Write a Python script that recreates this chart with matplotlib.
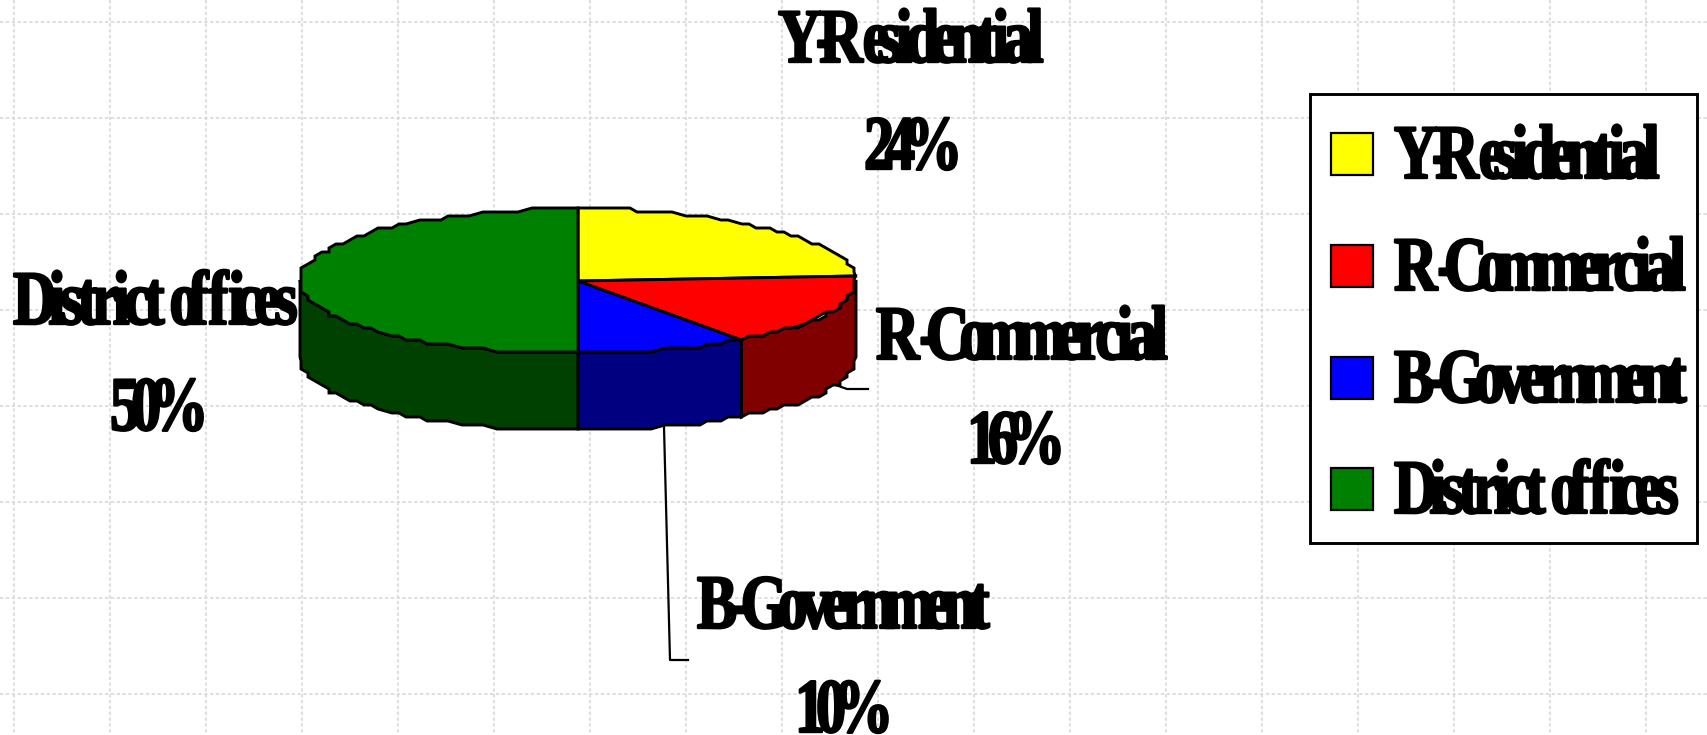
import numpy as np
import matplotlib
matplotlib.use("Agg")
import matplotlib.pyplot as plt
from matplotlib.patches import Polygon, Rectangle
from matplotlib.path import Path
from matplotlib.patheffects import AbstractPathEffect

categories = ["Y-Residential", "R-Commercial", "B-Government", "District offices"]
shares = [24, 16, 10, 50]
top_colors = ["#ffff00", "#ff0000", "#0000ff", "#008000"]
side_colors = ["#808000", "#800000", "#000080", "#004000"]

# label left edge / baseline in pixels: name x, name y, percent x, percent y
label_pos = [(778, 62, 864, 169), (876, 359, 967, 463), (697, 628, 795, 732), (13, 324, 110, 430)]
legend_rows = [178, 290, 402, 513]

W, H = 1707, 735
cx, cy, rx, ry, depth = 578, 281, 278, 72.5, 77
GLYPH_FS = 55.4  # size the letters look like
K = 0.6          # real font size is this much smaller, so the text box has the drawn width
LW = 2.1


# original letters are narrow and run into each other
class Tight(AbstractPathEffect):
    def __init__(self, track=0.58, narrow=0.78, stroke=1.7):
        super().__init__()
        self.track = track
        self.narrow = narrow
        self.stroke = stroke

    def draw_path(self, renderer, gc, tpath, affine, rgbFace=None):
        gc0 = renderer.new_gc()
        gc0.copy_properties(gc)
        gc0.set_linewidth(self.stroke)
        gc0.set_foreground("black")
        verts = tpath.vertices
        codes = tpath.codes
        starts = np.append(np.where(codes == Path.MOVETO)[0], len(codes))
        # contours that overlap in x belong to one glyph (holes, i dots, the % sign)
        groups = []
        for a, b in zip(starts[:-1], starts[1:]):
            lo, hi = verts[a:b, 0].min(), verts[a:b, 0].max()
            if groups and lo < groups[-1][3]:
                groups[-1][1] = b
                groups[-1][3] = max(hi, groups[-1][3])
            else:
                groups.append([a, b, lo, hi])
        lo0, hi0 = groups[0][2], groups[0][3]
        first = (lo0 + hi0) / 2
        left = lo0 + (first - lo0) * self.narrow
        new_verts = verts.copy()
        for a, b, lo, hi in groups:
            mid = (lo + hi) / 2
            new_verts[a:b, 0] = left + (mid - first) * self.track + (verts[a:b, 0] - mid) * self.narrow
        new_verts[:, 0] /= K
        new_verts[:, 1] /= K
        renderer.draw_path(gc0, Path(new_verts, codes), affine, rgbFace)
        gc0.restore()


def label(x, y, s, track=0.58):
    t = ax.text(x, y, s, fontsize=GLYPH_FS * K, family="Liberation Serif", fontweight="bold",
                ha="left", va="baseline", color="black", zorder=10)
    t.set_path_effects([Tight(track)])


def arc(a0, a1, yc):
    n = max(2, int(abs(a1 - a0) / 2.5) + 1)
    t = np.radians(np.linspace(a0, a1, n))
    x = cx + rx * np.cos(t)
    y = cy - ry * np.sin(t)
    # staircase edge like the low-res source, slice corners stay exact
    qx = np.round(x / 7) * 7
    qx[0], qx[-1] = x[0], x[-1]
    y = np.round(y / 4) * 4
    return np.column_stack([qx, y + yc])


fig = plt.figure(figsize=(W / 100, H / 100), dpi=100)
ax = fig.add_axes([0, 0, 1, 1])
ax.set_xlim(0, W)
ax.set_ylim(H, 0)
ax.axis("off")

for gx in np.arange(14, W, 96):
    ax.plot([gx, gx], [0, H], color="#d8d8d8", lw=1.2, ls=(0, (2, 1.5)), zorder=1)
for gy in np.arange(22, H, 96):
    ax.plot([0, W], [gy, gy], color="#d8d8d8", lw=1.2, ls=(0, (2, 1.5)), zorder=1)

# leader lines
ax.plot([664, 670, 688], [427, 660, 660], color="black", lw=1.6, zorder=2)
ax.plot([833, 847, 868], [384, 389, 389], color="black", lw=1.6, zorder=2)

# slices, clockwise from 12 o'clock
edges = 90 - 360 * np.cumsum([0] + shares) / np.sum(shares)

# side wall, front half only
for i in range(len(shares)):
    # keep only the part below the centre line (angles 0 to -180)
    a0 = min(edges[i], 0)
    a1 = max(edges[i + 1], -180)
    if a0 <= a1:
        continue
    pts = np.vstack([arc(a0, a1, 0), arc(a1, a0, depth)])
    ax.add_patch(Polygon(pts, closed=True, fc=side_colors[i], ec="black", lw=LW, zorder=3))

# top face
for i in range(len(shares)):
    pts = np.vstack([[[cx, cy]], arc(edges[i], edges[i + 1], 0)])
    ax.add_patch(Polygon(pts, closed=True, fc=top_colors[i], ec="black", lw=LW, zorder=4))

# data labels
for name, share, pos in zip(categories, shares, label_pos):
    label(pos[0], pos[1], name)
    label(pos[2], pos[3], "%d%%" % share, track=0.55)

# legend box
ax.add_patch(Rectangle((1310, 94), 387, 449, fc="white", ec="black", lw=LW, zorder=5))
for name, col, base in zip(categories, top_colors, legend_rows):
    ax.add_patch(Rectangle((1331, base - 45), 42, 42, fc=col, ec="black", lw=1.6, zorder=6))
    label(1394, base, name)

fig.savefig("out.png", dpi=100)
